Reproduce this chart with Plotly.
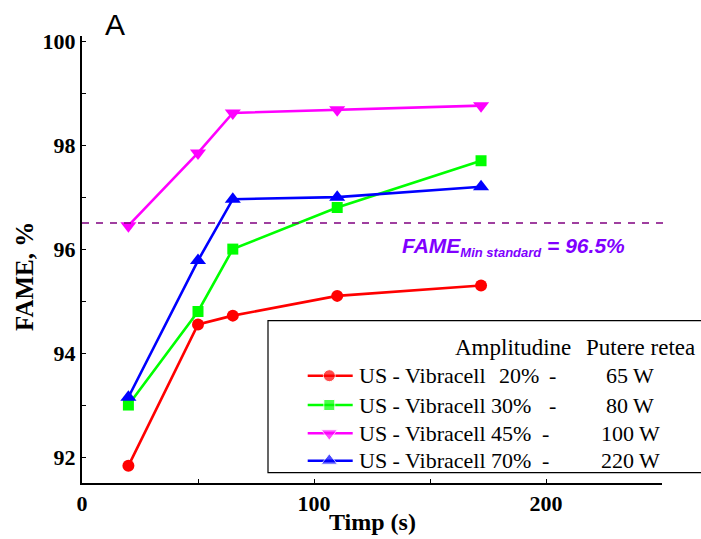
import plotly.graph_objects as go

# Reaction time (s) and FAME yield (%) for each ultrasound setting
timp = [20, 50, 65, 110, 172]
fame_20 = [91.83, 94.55, 94.72, 95.10, 95.30]
fame_30 = [93.00, 94.80, 96.00, 96.80, 97.70]
fame_45 = [96.45, 97.85, 98.62, 98.68, 98.76]
fame_70 = [93.15, 95.78, 96.96, 97.00, 97.20]

device_label = "US - Vibracell"
amplitudes = ["20%", "30%", "45%", "70%"]
power_labels = ["65 W", "80 W", "100 W", "220 W"]
colors = ["#FF0000", "#00FF00", "#FF00FF", "#0000FF"]
symbols = ["circle", "square", "triangle-down", "triangle-up"]
sizes = [12, 11, 14, 14]
fame_min = 96.5

W, H = 701, 539
L, R, T, B = 82, 39, 36, 56
PW, PH = W - L - R, H - T - B


def px(xp):
    return (xp - L) / PW


def py(yp):
    return (H - B - yp) / PH


serif = "Liberation Serif"
sans = "Liberation Sans"

fig = go.Figure()
for amp, vals, col, sym, sz in zip(amplitudes, [fame_20, fame_30, fame_45, fame_70],
                                   colors, symbols, sizes):
    fig.add_trace(go.Scatter(
        x=timp, y=vals, name=f"{device_label} {amp}", mode="lines+markers",
        line=dict(color=col, width=2.6),
        marker=dict(symbol=sym, size=sz, color=col),
        cliponaxis=False, showlegend=False,
    ))

# Legend keys, drawn on a pixel-space overlay axis pair
row_y = [375.7, 405, 433.3, 460.7]
key_x = [307.7, 329.3, 352.7]
for col, sym, sz, ry in zip(colors, symbols, sizes, row_y):
    fig.add_trace(go.Scatter(
        x=key_x, y=[ry] * 3, xaxis="x2", yaxis="y2", mode="lines+markers",
        line=dict(color=col, width=2.6),
        marker=dict(symbol=sym, size=[0, sz, 0], color=col),
        cliponaxis=False, showlegend=False, hoverinfo="skip",
    ))

shapes = [
    # minimum standard reference line
    dict(type="line", xref="paper", yref="y", x0=0, x1=px(670), y0=fame_min, y1=fame_min,
         line=dict(color="#800080", width=1.5, dash="7px,7px")),
    # legend frame
    dict(type="rect", xref="paper", yref="paper", x0=px(268), x1=px(730),
         y0=py(472.7), y1=py(320.7), line=dict(color="black", width=1.2),
         fillcolor="rgba(255,255,255,0)", layer="above"),
]

leg_font = dict(family=serif, size=22, color="black")
head_font = dict(family=serif, size=23, color="black")


def note(text, x, y, font, xanchor="center", **kw):
    return dict(text=text, xref="paper", yref="paper", x=px(x), y=py(y), showarrow=False,
                font=font, xanchor=xanchor, yanchor="middle", **kw)


annotations = [
    note("A", 115, 24, dict(family=sans, size=30, color="black")),
    note("FAME, %", 24, 277, dict(family=serif, size=25, color="black", weight="bold"),
         textangle=-90),
    note("Timp (s)", 373, 522, dict(family=serif, size=24, color="black", weight="bold")),
    note("<b><i>FAME<sub><span style='font-size:13px'>Min standard</span></sub> = 96.5%</i></b>",
         400, 247, dict(family=sans, size=21, color="#8000FF"), xanchor="left"),
    note("Amplitudine", 513, 347, head_font),
    note("Putere retea", 640, 347, head_font),
]
amp_x = [497, 489, 489, 489]
dash_x = [552, 552, 545, 545]
for amp, lab, ry, ax, dx in zip(amplitudes, power_labels, row_y, amp_x, dash_x):
    annotations.append(note(device_label, 357, ry, leg_font, xanchor="left"))
    annotations.append(note(amp, ax, ry, leg_font, xanchor="left"))
    annotations.append(note("-", dx, ry, leg_font))
    annotations.append(note(lab, 630, ry, leg_font))

tick_font = dict(family=serif, size=22, color="black", weight="bold")

fig.update_layout(
    width=W, height=H,
    margin=dict(l=L, r=R, t=T, b=B),
    paper_bgcolor="white", plot_bgcolor="white",
    font=dict(family=serif, color="black"),
    showlegend=False,
    shapes=shapes,
    annotations=annotations,
    xaxis=dict(range=[0, 250], tickvals=[0, 100, 200], showgrid=False, zeroline=False,
               showline=True, linecolor="black", linewidth=2,
               ticks="inside", ticklen=4, tickcolor="black",
               minor=dict(tickvals=[50, 150, 250], ticks="inside", ticklen=4, tickcolor="black"),
               tickfont=tick_font),
    yaxis=dict(range=[91.5, 100.1], tickvals=[92, 94, 96, 98, 100], showgrid=False,
               zeroline=False, showline=True, linecolor="black", linewidth=2,
               ticks="inside", ticklen=4, tickcolor="black",
               minor=dict(tickvals=[93, 95, 97, 99], ticks="inside", ticklen=4, tickcolor="black"),
               tickfont=tick_font),
    xaxis2=dict(overlaying="x", range=[L, W - R], visible=False, fixedrange=True),
    yaxis2=dict(overlaying="y", range=[H - B, T], visible=False, fixedrange=True),
)

fig.write_html("out.html")
